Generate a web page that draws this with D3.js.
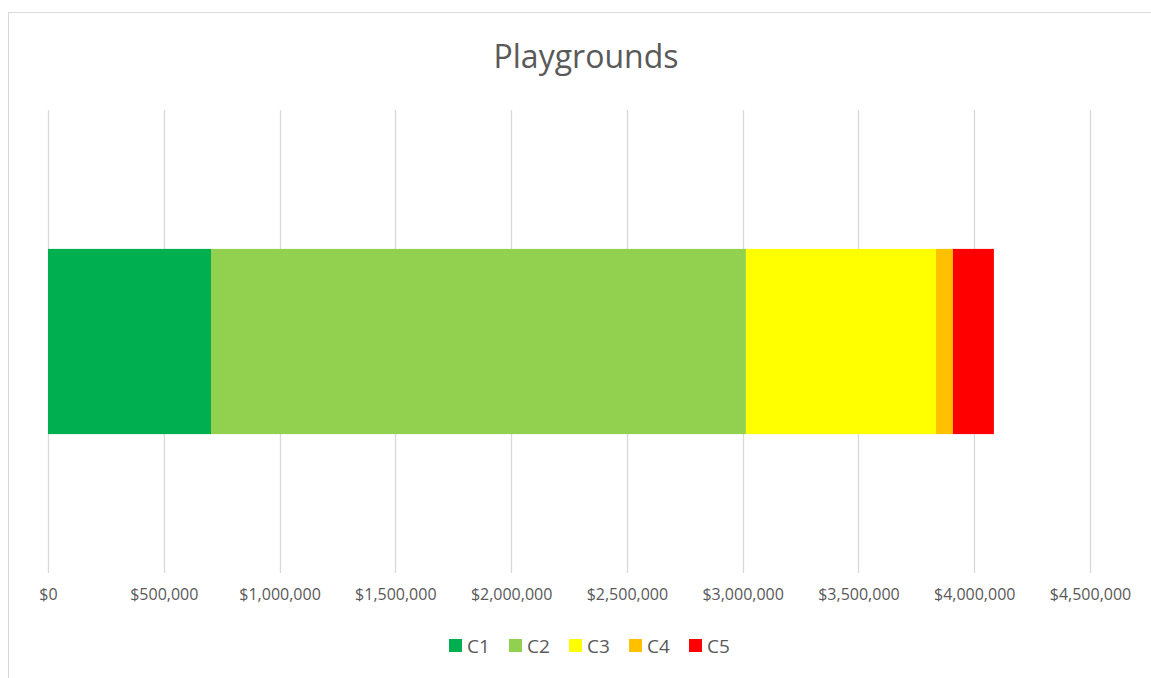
<!DOCTYPE html>
<html>
<head>
<meta charset="utf-8">
<script src="https://cdn.jsdelivr.net/npm/d3@7"></script>
<style>
  body { margin: 0; background: #fff; }
  text { font-family: "Open Sans", "Liberation Sans", sans-serif; fill: #595959; }
</style>
</head>
<body>
<div id="viz"></div>
<script>
// chart data
const CATEGORIES = ["Playgrounds"];
const SERIES = ["C1", "C2", "C3", "C4", "C5"];
const VALUES = [704000, 2310000, 821000, 73000, 177000];
const COLORS = ["#00B050", "#92D050", "#FFFF00", "#FFC000", "#FF0000"];
const TICKS = [0, 500000, 1000000, 1500000, 2000000, 2500000, 3000000, 3500000, 4000000, 4500000];

const F_WIDTH = 1151;
const F_HEIGHT = 678;
const MARGINS = {left: 48, right: 61, top: 110, bottom: 105};
const VIS_WIDTH = F_WIDTH - MARGINS.left - MARGINS.right;
const VIS_HEIGHT = F_HEIGHT - MARGINS.top - MARGINS.bottom;

const FRAME = d3.select("#viz")
  .append("svg")
    .attr("width", F_WIDTH)
    .attr("height", F_HEIGHT);

// outer chart border
FRAME.append("rect")
  .attr("x", 8.5).attr("y", 12.5)
  .attr("width", F_WIDTH).attr("height", F_HEIGHT)
  .attr("fill", "none")
  .attr("stroke", "#D9D9D9");

// title
FRAME.append("text")
  .attr("x", 586).attr("y", 68)
  .attr("text-anchor", "middle")
  .style("font-size", "32px")
  .text(CATEGORIES[0]);

const X_SCALE = d3.scaleLinear()
  .domain([0, 4500000])
  .range([0, VIS_WIDTH]);

const Y_SCALE = d3.scaleBand()
  .domain(CATEGORIES)
  .range([0, VIS_HEIGHT])
  .paddingInner(0)
  .paddingOuter(0.75);

const plot = FRAME.append("g")
  .attr("transform", "translate(" + MARGINS.left + "," + MARGINS.top + ")");

// vertical gridlines
plot.selectAll(".grid")
  .data(TICKS)
  .enter()
  .append("line")
    .attr("x1", d => Math.round(X_SCALE(d)) + 0.5)
    .attr("x2", d => Math.round(X_SCALE(d)) + 0.5)
    .attr("y1", 0)
    .attr("y2", VIS_HEIGHT)
    .attr("stroke", "#D9D9D9")
    .attr("stroke-width", 1.3);

// stacked segments
const starts = VALUES.map((v, i) => d3.sum(VALUES.slice(0, i)));

plot.selectAll(".seg")
  .data(VALUES)
  .enter()
  .append("rect")
    .attr("x", (d, i) => X_SCALE(starts[i]))
    .attr("y", Y_SCALE(CATEGORIES[0]))
    .attr("width", d => X_SCALE(d) - X_SCALE(0))
    .attr("height", Y_SCALE.bandwidth())
    .attr("fill", (d, i) => COLORS[i]);

// x-axis labels
const xAxis = plot.append("g")
  .attr("transform", "translate(0," + VIS_HEIGHT + ")")
  .call(d3.axisBottom(X_SCALE)
    .tickValues(TICKS)
    .tickSize(0)
    .tickPadding(16)
    .tickFormat(d => "$" + d3.format(",")(d)));
xAxis.select(".domain").remove();
xAxis.selectAll("text")
  .style("font-size", "16px")
  .style("fill", "#595959")
  .style("font-family", "'Open Sans', sans-serif");

// legend
const legend = FRAME.append("g")
  .attr("transform", "translate(449,639)");

const item = legend.selectAll(".item")
  .data(SERIES)
  .enter()
  .append("g")
    .attr("transform", (d, i) => "translate(" + (i * 60) + ",0)");

item.append("rect")
  .attr("width", 13).attr("height", 13)
  .attr("fill", (d, i) => COLORS[i]);

item.append("text")
  .attr("x", 18).attr("y", 14)
  .style("font-size", "19px")
  .text(d => d);
</script>
</body>
</html>
